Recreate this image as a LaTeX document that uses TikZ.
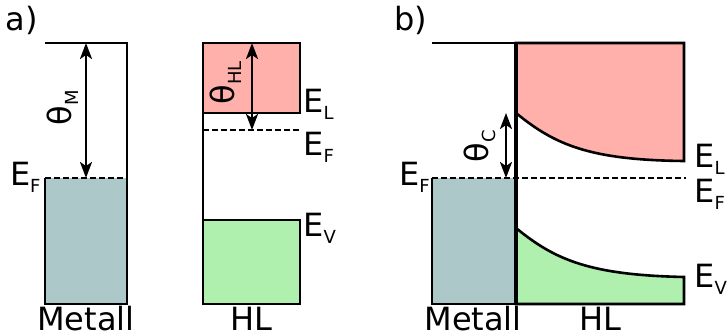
\documentclass[tikz,border=0pt]{standalone}
\usepackage{fontspec}
\setmainfont{DejaVu Sans}
\definecolor{metalgray}{RGB}{173,200,200}
\definecolor{lumored}{RGB}{255,176,170}
\definecolor{homogreen}{RGB}{175,240,175}
\usetikzlibrary{arrows.meta, positioning}
\newcommand{\lev}[2]{#1\raisebox{-3.5pt}{\fontsize{9}{9}\selectfont #2}}

\begin{document}
\begin{tikzpicture}[x=0.5pt, y=-0.5pt,
            t/.style={font=\fontsize{16}{18}\selectfont, inner sep=0pt},
            e/.style={t, anchor=base west},
            ef/.style={t, anchor=base east},
            a/.style={{Stealth[length=8pt,width=6pt,inset=2pt]}-{Stealth[length=8pt,width=6pt,inset=2pt]}, line width=1.2pt},
            l/.style={line width=1.3pt},
            d/.style={line width=1.2pt, dash pattern=on 3pt off 1.5pt}
          ]
          \useasboundingbox (0,0) rectangle (728,336);
          % a) metal and HL apart
          \node[t] (pa) at (22,20) {a)};
          \fill[metalgray] (45,178) rectangle (127,304);
          \draw[l] (45,43) -- (127,43) -- (127,304) -- (45,304) -- (45,178);
          \draw[d] (45,178) -- (127,178);
          \coordinate (mvac) at (86,43);
          \coordinate (mef) at (86,178);
          \draw[a] (mvac) -- (mef);
          \node[t, rotate=90] (thm) at (63,108) {\lev{θ}{M}};
          \node[ef] (efm) at (41,186) {\lev{E}{F}};
          \node[t, anchor=base] (metal) at (86,330) {Metall};
          \draw[l, fill=lumored] (203,43) rectangle (300,113);
          \draw[l, fill=homogreen] (203,220) rectangle (300,304);
          \draw[l] (203,113) -- (203,220);
          \draw[d] (203,130) -- (300,130);
          \coordinate (hvac) at (252,43);
          \coordinate (hef) at (252,130);
          \draw[a] (hvac) -- (hef);
          \node[t, rotate=90] (thhl) at (226,83) {\lev{θ}{HL}};
          \node[e] (el) at (303,113) {\lev{E}{L}};
          \node[e] (efh) at (303,156) {\lev{E}{F}};
          \node[e] (ev) at (303,237) {\lev{E}{V}};
          \node[t, anchor=base] (hl) at (251,330) {HL};
          % b) contact, bands bent
          \node[t] (pb) at (411,20) {b)};
          \fill[metalgray] (432,178) rectangle (516,304);
          \draw[l, fill=lumored] (516,43) -- (684,43) -- (684,161)
            .. controls (590,160) and (555,145) .. (516,113) -- cycle;
          \draw[l, fill=homogreen] (516,228) .. controls (555,260) and (590,275) .. (684,277)
            -- (684,304) -- (516,304) -- cycle;
          \draw[l] (432,43) -- (516,43);
          \draw[l] (432,178) -- (432,304) -- (516,304);
          \draw[line width=1.7pt] (516,43) -- (516,304);
          \draw[d] (432,178) -- (686,178);
          \coordinate (cl) at (506,113);
          \coordinate (cf) at (506,178);
          \draw[a] (cl) -- (cf);
          \node[t, rotate=90] (thc) at (480,146) {\lev{θ}{C}};
          \node[ef] (efc) at (430,186) {\lev{E}{F}};
          \node[e] (el2) at (694,168) {\lev{E}{L}};
          \node[e] (ef2) at (694,203) {\lev{E}{F}};
          \node[e] (ev2) at (694,287) {\lev{E}{V}};
          \node[t, anchor=base] (metal2) at (473,330) {Metall};
          \node[t, anchor=base] (hl2) at (600,330) {HL};
        \end{tikzpicture}
\end{document}
